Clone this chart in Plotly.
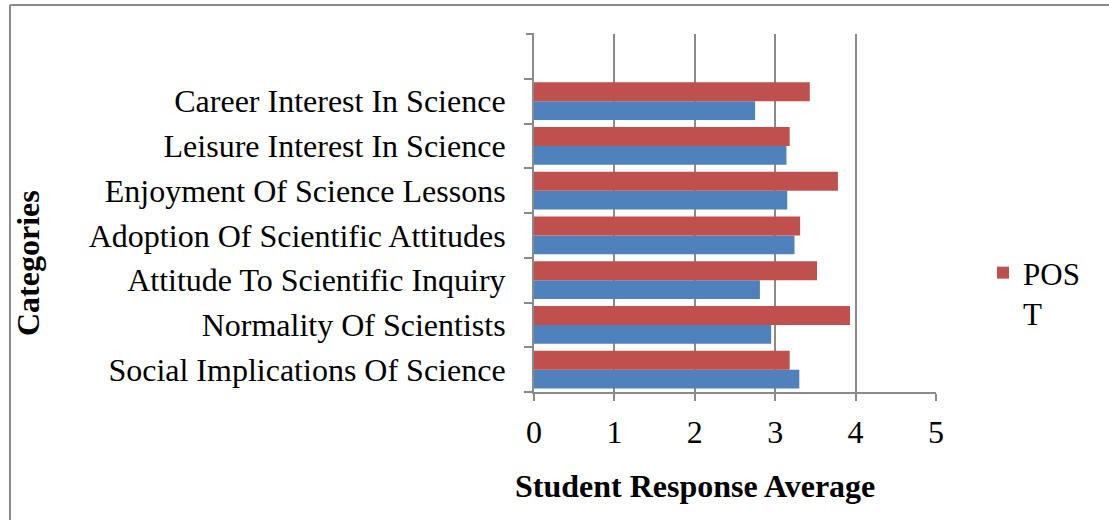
import plotly.graph_objects as go

# Attitude categories, listed top to bottom as they appear on the chart
categories = [
    "Career Interest In Science",
    "Leisure Interest In Science",
    "Enjoyment Of Science Lessons",
    "Adoption Of Scientific Attitudes",
    "Attitude To Scientific Inquiry",
    "Normality Of Scientists",
    "Social Implications Of Science",
]
pre_scores = [2.75, 3.14, 3.15, 3.24, 2.81, 2.95, 3.30]
post_scores = [3.43, 3.18, 3.78, 3.31, 3.52, 3.93, 3.18]
x_ticks = [0, 1, 2, 3, 4, 5]

W, H = 1109, 520
L, R, T, B = 534, 173, 34, 128
PW, PH = W - L - R, H - T - B


def px_x(p):
    return (p - L) / PW


def px_y(p):
    return 1 - (p - T) / PH


FONT = "Liberation Serif, Times New Roman, serif"
GRID = "#8a8a8a"
FS = 32

fig = go.Figure()
fig.add_trace(go.Bar(
    y=categories, x=pre_scores, orientation="h", name="PRE",
    marker=dict(color="#4F81BD", line=dict(width=0)), showlegend=False,
))
fig.add_trace(go.Bar(
    y=categories, x=post_scores, orientation="h", name="POS<br>T",
    marker=dict(color="#C0504D", line=dict(width=0)),
))

fig.update_layout(
    width=W, height=H,
    margin=dict(l=L, r=R, t=T, b=B, pad=0),
    paper_bgcolor="white", plot_bgcolor="white",
    barmode="group", bargap=0.16, bargroupgap=0,
    font=dict(family=FONT, size=FS, color="black"),
    legend=dict(
        x=px_x(983), y=px_y(246), xanchor="left", yanchor="top",
        valign="top", font=dict(size=FS - 1), bgcolor="rgba(0,0,0,0)",
        tracegroupgap=0,
    ),
    xaxis=dict(
        range=[0, 5], tickvals=x_ticks, showgrid=True, gridcolor=GRID,
        gridwidth=2, showline=True, linecolor=GRID, linewidth=2,
        ticks="outside", ticklen=7, tickwidth=2, tickcolor=GRID,
        zeroline=False, ticklabelstandoff=4,
        tickfont=dict(size=FS),
    ),
    yaxis=dict(
        type="category", categoryorder="array",
        categoryarray=categories[::-1], range=[-0.5, 7.5],
        showline=True, linecolor=GRID, linewidth=2, showgrid=False,
        ticks="outside", tickson="boundaries", ticklen=8, tickwidth=2,
        tickcolor=GRID, ticklabelstandoff=20, tickfont=dict(size=FS),
    ),
    annotations=[
        dict(text="<b>Student Response Average</b>", xref="paper",
             yref="paper", x=px_x(695), y=px_y(486), showarrow=False,
             xanchor="center", yanchor="middle", font=dict(size=FS)),
        dict(text="<b>Categories</b>", xref="paper", yref="paper",
             x=px_x(28), y=px_y(263), showarrow=False, textangle=-90,
             xanchor="center", yanchor="middle", font=dict(size=FS)),
    ],
    shapes=[
        # top tick on the category axis
        dict(type="line", xref="paper", yref="paper", x0=px_x(526),
             x1=0, y0=1, y1=1, line=dict(color=GRID, width=2)),
        # outer frame around the chart
        dict(type="line", xref="paper", yref="paper", x0=px_x(10),
             x1=px_x(1115), y0=px_y(5), y1=px_y(5),
             line=dict(color=GRID, width=2)),
        dict(type="line", xref="paper", yref="paper", x0=px_x(10),
             x1=px_x(10), y0=px_y(5), y1=px_y(525),
             line=dict(color=GRID, width=2)),
    ],
)

fig.write_html("out.html")
